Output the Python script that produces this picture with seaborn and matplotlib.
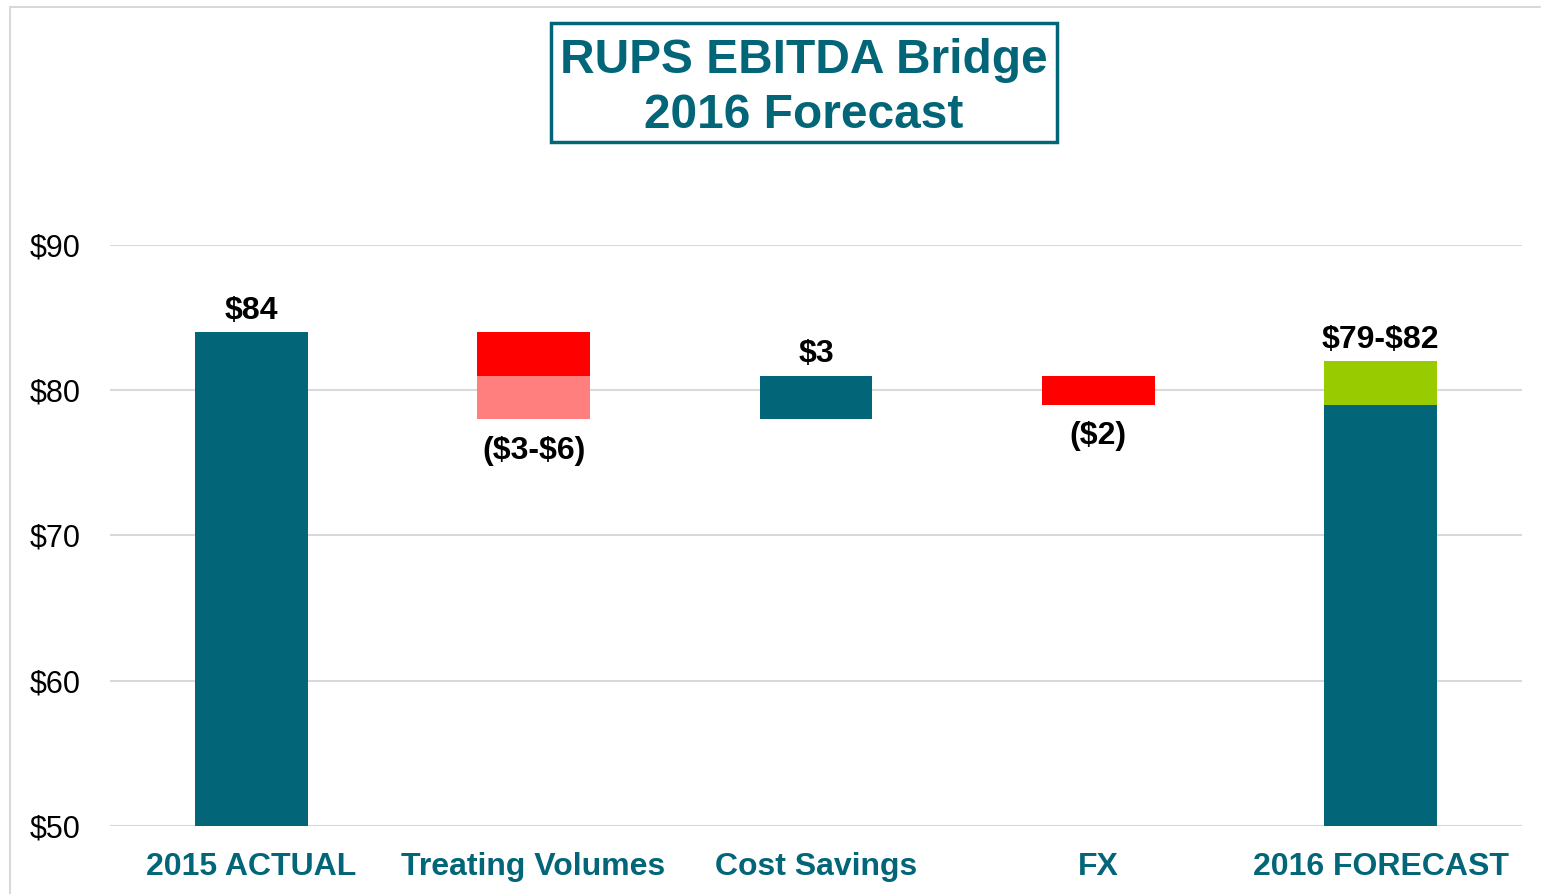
import matplotlib
matplotlib.use("Agg")
import matplotlib.pyplot as plt
import seaborn as sns
import pandas as pd
from matplotlib.lines import Line2D
from matplotlib.patches import Rectangle

categories = ["2015 ACTUAL", "Treating Volumes", "Cost Savings", "FX", "2016 FORECAST"]

# layers of the waterfall: (category, bottom, top)
teal_cats = ["2015 ACTUAL", "Cost Savings", "2016 FORECAST"]
teal_bottom = [50, 78, 50]
teal_top = [84, 81, 79]

red_cats = ["Treating Volumes", "FX"]
red_bottom = [81, 79]
red_top = [84, 81]

lightred_cats = ["Treating Volumes"]
lightred_bottom = [78]
lightred_top = [81]

green_cats = ["2016 FORECAST"]
green_bottom = [79]
green_top = [82]

labels_above = {"2015 ACTUAL": ("$84", 84), "Cost Savings": ("$3", 81), "2016 FORECAST": ("$79-$82", 82)}
labels_below = {"Treating Volumes": ("($3-$6)", 78), "FX": ("($2)", 79)}

yticks = [50, 60, 70, 80, 90]
ytick_labels = ["$50", "$60", "$70", "$80", "$90"]

TEAL = "#026678"
RED = "#FF0000"
LIGHTRED = "#FF7F7F"
GREEN = "#99CC00"
GRID = "#D9D9D9"

sns.set_theme(style="white")
plt.rcParams["font.family"] = ["Liberation Sans", "DejaVu Sans"]
plt.rcParams["text.parse_math"] = False

fig = plt.figure(figsize=(15.42, 8.94), dpi=100)
ax = fig.add_axes([110 / 1542, 1 - 826 / 894, 1412 / 1542, (826 - 245) / 894])

def layer(cats, bottoms, tops, color):
    df = pd.DataFrame({"cat": cats, "h": [t - b for b, t in zip(bottoms, tops)]})
    sns.barplot(data=df, x="cat", y="h", order=categories, bottom=bottoms,
                color=color, saturation=1, width=0.4, ax=ax, errorbar=None,
                linewidth=0, zorder=3)

layer(teal_cats, teal_bottom, teal_top, TEAL)
layer(red_cats, red_bottom, red_top, RED)
layer(lightred_cats, lightred_bottom, lightred_top, LIGHTRED)
layer(green_cats, green_bottom, green_top, GREEN)

ax.set_ylim(50, 90)
ax.set_xlim(-0.5, 4.5)
ax.set_yticks(yticks)
ax.set_yticklabels(ytick_labels)
ax.set_xlabel("")
ax.set_ylabel("")
ax.yaxis.grid(True, color=GRID, linewidth=1.5, zorder=0)
ax.set_axisbelow(True)
for s in ax.spines.values():
    s.set_visible(False)
ax.tick_params(axis="y", length=0, pad=21, labelsize=22, labelcolor="black")
ax.tick_params(axis="x", length=0, pad=19, labelsize=23, labelcolor=TEAL)
for t in ax.get_xticklabels():
    t.set_fontweight("bold")

for c, (txt, v) in labels_above.items():
    ax.annotate(txt, xy=(categories.index(c), v), xytext=(0, 15.5), textcoords="offset points",
                ha="center", va="center", fontsize=23, fontweight="bold", color="black")
for c, (txt, v) in labels_below.items():
    ax.annotate(txt, xy=(categories.index(c), v), xytext=(0, -22.5), textcoords="offset points",
                ha="center", va="center", fontsize=23, fontweight="bold", color="black")

# outer frame lines (top and left)
fig.add_artist(Line2D([10 / 1542, 1540 / 1542], [1 - 7 / 894, 1 - 7 / 894], color=GRID, linewidth=1.5))
fig.add_artist(Line2D([10 / 1542, 10 / 1542], [1 - 7 / 894, 0], color=GRID, linewidth=1.5))

# title box
fig.add_artist(Rectangle((551 / 1542, 1 - 142 / 894), (1057 - 551) / 1542, (142 - 23) / 894,
                         transform=fig.transFigure, fill=False, edgecolor=TEAL, linewidth=2.5))
fig.text(804 / 1542, 1 - 88 / 894, "RUPS EBITDA Bridge\n2016 Forecast", ha="center", va="center",
         fontsize=34.5, fontweight="bold", color=TEAL, linespacing=1.27)

fig.savefig("out.png", dpi=100)
